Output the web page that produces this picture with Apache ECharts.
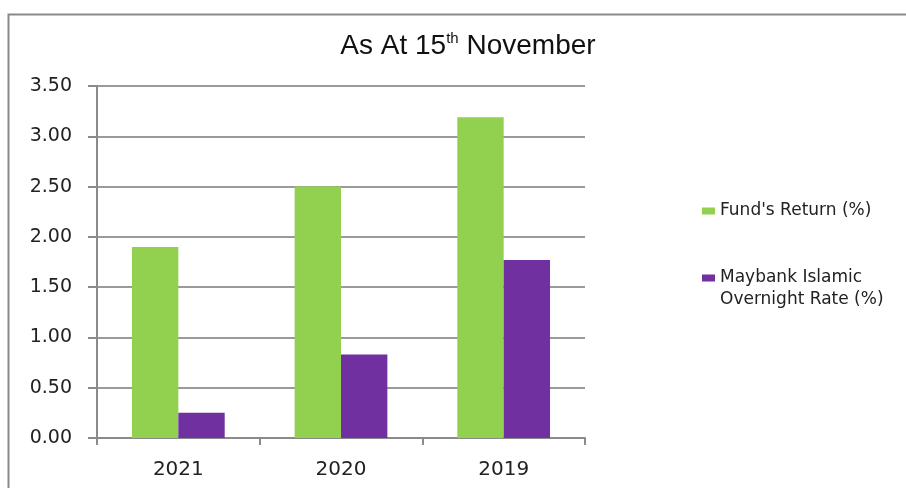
<!DOCTYPE html>
<html><head><meta charset="utf-8">
<script src="https://cdn.jsdelivr.net/npm/echarts@6/dist/echarts.min.js"></script>
<style>html,body{margin:0;padding:0;background:#fff}#c{width:906px;height:488px}</style>
</head><body><div id="c"></div>
<script>
const categories = ['2021', '2020', '2019'];
const fundReturn = [1.90, 2.50, 3.19];
const maybankRate = [0.25, 0.83, 1.77];
const yTicks = ['0.00','0.50','1.00','1.50','2.00','2.50','3.00','3.50'];
const seriesNames = ["Fund's Return (%)", 'Maybank Islamic Overnight Rate (%)'];
const legendLines = ["Fund's Return (%)", 'Maybank Islamic', 'Overnight Rate (%)'];

const chart = echarts.init(document.getElementById('c'), null, {renderer: 'canvas'});
chart.setOption({
  animation: false,
  backgroundColor: '#fff',
  graphic: [
    {
      type: 'rect', left: 6, top: 12, z: -1,
      shape: {x: 0, y: 0, width: 1000, height: 1000},
      style: {fill: 'none', stroke: '#8a8a8a', lineWidth: 2}
    },
    {
      type: 'text', left: 720, top: 291,
      style: {text: legendLines[2], font: '17px "DejaVu Sans"', fill: '#222'}
    }
  ],
  title: {
    text: '{a|As At 15}{s|th}{a| November}',
    left: 463, top: 26, textAlign: 'center', padding: 5,
    textStyle: {
      fontWeight: 'normal',
      rich: {
        a: {fontFamily: 'Liberation Sans', fontSize: 28, fontWeight: 'normal', color: '#111', lineHeight: 29, verticalAlign: 'bottom'},
        s: {fontFamily: 'Liberation Sans', fontSize: 15, fontWeight: 'normal', color: '#111', lineHeight: 15, verticalAlign: 'top'}
      }
    }
  },
  legend: {
    orient: 'vertical', left: 702, top: 199, padding: 0,
    itemWidth: 13, itemHeight: 7, itemGap: 43,
    icon: 'rect',
    formatter: name => name === seriesNames[1] ? legendLines[1] : legendLines[0],
    textStyle: {fontFamily: 'DejaVu Sans', fontSize: 17, color: '#222', lineHeight: 24},
    data: seriesNames
  },
  grid: {left: 97, right: 321, top: 86, bottom: 50},
  xAxis: {
    type: 'category', data: categories,
    axisLine: {lineStyle: {color: '#8a8a8a', width: 2}},
    axisTick: {show: true, length: 7, lineStyle: {color: '#8a8a8a', width: 2}},
    axisLabel: {fontFamily: 'DejaVu Sans', fontSize: 20, color: '#222', margin: 22}
  },
  yAxis: {
    type: 'value', min: 0, max: 3.5, interval: 0.5,
    axisLine: {show: true, lineStyle: {color: '#8a8a8a', width: 2}},
    axisTick: {show: true, length: 9, lineStyle: {color: '#8a8a8a', width: 2}},
    splitLine: {lineStyle: {color: '#9a9a9a', width: 2}},
    axisLabel: {fontFamily: 'DejaVu Sans', fontSize: 19, color: '#222', margin: 25,
      formatter: v => yTicks[Math.round(v / 0.5)]}
  },
  series: [
    {name: seriesNames[0], type: 'bar', data: fundReturn, barGap: '0%', barCategoryGap: '43%',
      itemStyle: {color: '#92D050'}},
    {name: seriesNames[1], type: 'bar', data: maybankRate,
      itemStyle: {color: '#7030A0'}}
  ]
});
</script></body></html>
